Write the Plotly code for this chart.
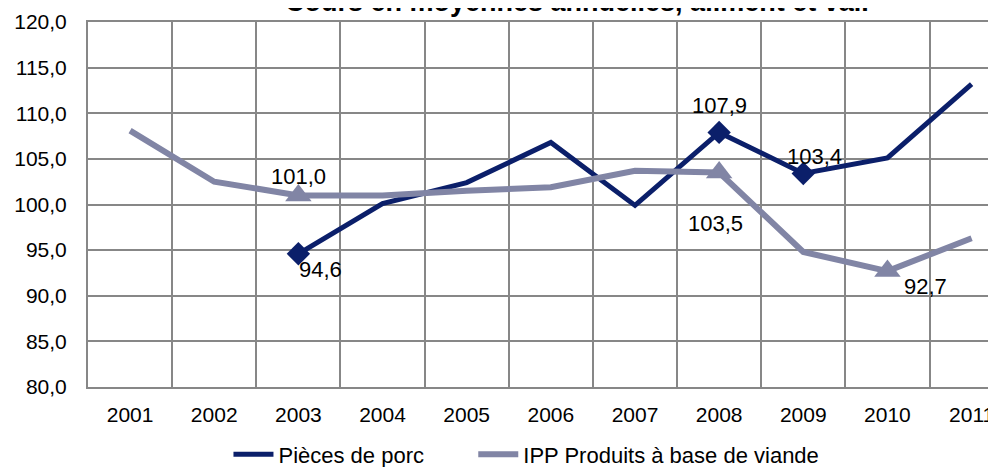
import plotly.graph_objects as go

years = ["2001", "2002", "2003", "2004", "2005", "2006", "2007", "2008", "2009", "2010", "2011"]
porc = [None, None, 94.6, 100.1, 102.4, 106.8, 99.9, 107.9, 103.4, 105.1, 113.2]
ipp = [108.1, 102.5, 101.0, 101.0, 101.5, 101.9, 103.7, 103.5, 94.8, 92.7, 96.3]

porc_name = "Pièces de porc"
ipp_name = "IPP Produits à base de viande"
title_text = "Cours en moyennes annuelles, aliment et val."

# labelled points (year index) and label offsets (px)
porc_marked = [2, 7, 8]
porc_shift = [(22, -16), (0, 27), (11, 17)]
ipp_marked = [2, 7, 9]
ipp_shift = [(0, 19), (-4, -51), (38, -15)]

navy = "#0B1F6A"
lav = "#8185A5"
grid = "#878787"
font_family = "Liberation Sans, Arial, sans-serif"

fig = go.Figure()
fig.add_trace(go.Scatter(x=years, y=porc, mode="lines", name=porc_name, legend="legend",
                         line=dict(color=navy, width=5), connectgaps=False))
fig.add_trace(go.Scatter(x=years, y=ipp, mode="lines", name=ipp_name, legend="legend2",
                         line=dict(color=lav, width=6)))
fig.add_trace(go.Scatter(x=[years[i] for i in porc_marked], y=[porc[i] for i in porc_marked],
                         mode="markers", showlegend=False,
                         marker=dict(symbol="diamond", size=18, color=navy)))
fig.add_trace(go.Scatter(x=[years[i] for i in ipp_marked], y=[ipp[i] for i in ipp_marked],
                         mode="markers", showlegend=False,
                         marker=dict(symbol="triangle-up", size=23, color=lav)))

ann = []
for idx, (dx, dy) in zip(porc_marked, porc_shift):
    ann.append(dict(x=idx, y=porc[idx], text=f"{porc[idx]:.1f}".replace(".", ","),
                    showarrow=False, xshift=dx, yshift=dy,
                    font=dict(size=22, color="#000000", family=font_family)))
for idx, (dx, dy) in zip(ipp_marked, ipp_shift):
    ann.append(dict(x=idx, y=ipp[idx], text=f"{ipp[idx]:.1f}".replace(".", ","),
                    showarrow=False, xshift=dx, yshift=dy,
                    font=dict(size=22, color="#000000", family=font_family)))
ann.append(dict(x=0.539, y=1.0082, xref="paper", yref="paper", xanchor="center", yanchor="bottom",
                text=f"<b>{title_text}</b>", showarrow=False,
                font=dict(size=27, color="#000000", family=font_family)))

legend_common = dict(orientation="h", xanchor="left", y=-0.185, yanchor="middle",
                     font=dict(size=22), itemwidth=40, bgcolor="rgba(0,0,0,0)")

fig.update_layout(
    width=996, height=459,
    margin=dict(l=79.5, r=8, t=14, b=80, autoexpand=False),
    paper_bgcolor="white", plot_bgcolor="white",
    separators=", ",
    font=dict(family=font_family, size=22, color="#000000"),
    annotations=ann,
    showlegend=True,
    legend=dict(x=0.1547, **legend_common),
    legend2=dict(x=0.4243, **legend_common),
    xaxis=dict(type="category", range=[-0.5, 10.29], tickson="boundaries",
               showgrid=True, gridcolor=grid, gridwidth=2,
               showline=True, linecolor=grid, linewidth=2, mirror=True,
               ticks="", ticklabelstandoff=8, tickfont=dict(size=21),
               ticklabeloverflow="allow",
               zeroline=False, fixedrange=True, automargin=False),
    yaxis=dict(range=[80, 120], tickvals=[80, 85, 90, 95, 100, 105, 110, 115, 120],
               tickformat=".1f", showgrid=True, gridcolor=grid, gridwidth=2,
               showline=True, linecolor=grid, linewidth=2,
               ticks="", ticklabelstandoff=15, tickfont=dict(size=21),
               zeroline=False, fixedrange=True, automargin=False),
)

fig.write_html("out.html")
